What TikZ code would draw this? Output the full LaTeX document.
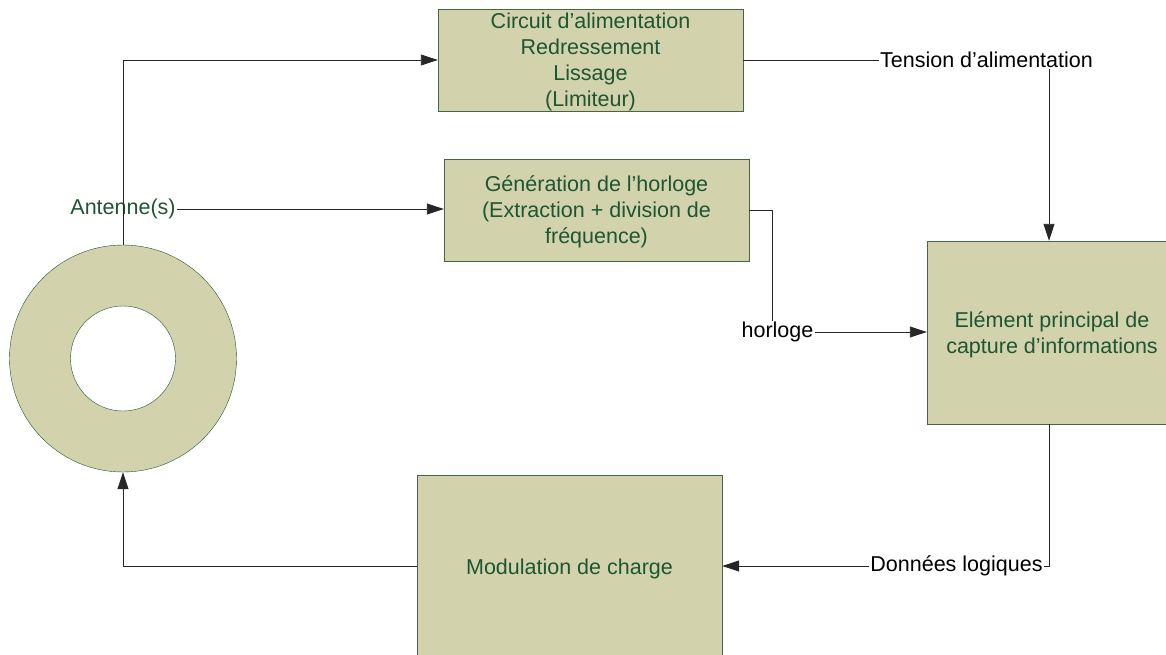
\documentclass[tikz,border=0pt]{standalone}
\usepackage{fontspec}
\setmainfont{Liberation Sans}
\usetikzlibrary{arrows.meta, calc}

\definecolor{kaki}{RGB}{210,211,172}
\definecolor{bord}{RGB}{70,100,70}
\definecolor{vert}{RGB}{30,85,50}

\begin{document}
\begin{tikzpicture}[x=1pt, y=-1pt,
    % Define the styles of the blocks and the links
    bloc/.style={draw=bord, fill=kaki, text=vert, align=center, inner sep=0pt,
        text depth=0pt, font=\fontsize{21.5}{26}\selectfont},
    lbl/.style={inner sep=1pt, font=\fontsize{21.5}{26}\selectfont},
    lien/.style={draw=black!85, line width=0.9pt},
    fleche/.style={lien, -{Triangle[length=17pt, width=11pt]}}
]

\useasboundingbox (0,0) rectangle (1166,655);
\clip (0,0) rectangle (1166,655);

% Define the blocks
\node[bloc, minimum width=305, minimum height=102] (alim) at (590.5,60)
    {Circuit d’alimentation\\Redressement\\Lissage\\(Limiteur)};
\node[bloc, minimum width=305, minimum height=102] (horl) at (596.5,210)
    {Génération de l’horloge\\(Extraction + division de\\fréquence)};
\node[bloc, minimum width=250, minimum height=183] (capt) at (1052,332.5)
    {Elément principal de\\capture d’informations};
\node[bloc, minimum width=305, minimum height=183] (modu) at (569.5,566.5)
    {Modulation de charge};

% The antenna (ring)
\node[circle, draw=vert, fill=kaki, minimum size=227] (ant) at (123,358.5) {};
\node[circle, draw=vert, fill=white, minimum size=105] (trou) at (123,358.5) {};

% Add the labels
\node[lbl, text=vert] (antlbl) at (123,209) {Antenne(s)};
\node[lbl] (tlbl) at (986.5,60) {Tension d’alimentation};
\node[lbl] (hlbl) at (777.5,332) {horloge};
\node[lbl] (dlbl) at (956.5,566) {Données logiques};

% Draw the links
\draw[fleche] (ant.north) |- (alim.west);
\draw[fleche] (antlbl.east) -- (antlbl.east -| horl.west);
\draw[lien] (horl.east) -| ([xshift=-5pt]hlbl.north);
\draw[fleche] (hlbl.east) -- (hlbl.east -| capt.west);
\draw[lien] (alim.east) -- (tlbl.west);
\draw[fleche] (tlbl.south -| 1049,0) -- (capt.north -| 1049,0);
\draw[lien] (capt.south -| 1049,0) |- (dlbl.east);
\draw[fleche] (dlbl.west) -- (dlbl.west -| modu.east);
\draw[fleche] (modu.west) -| (ant.south);

\end{tikzpicture}
\end{document}
